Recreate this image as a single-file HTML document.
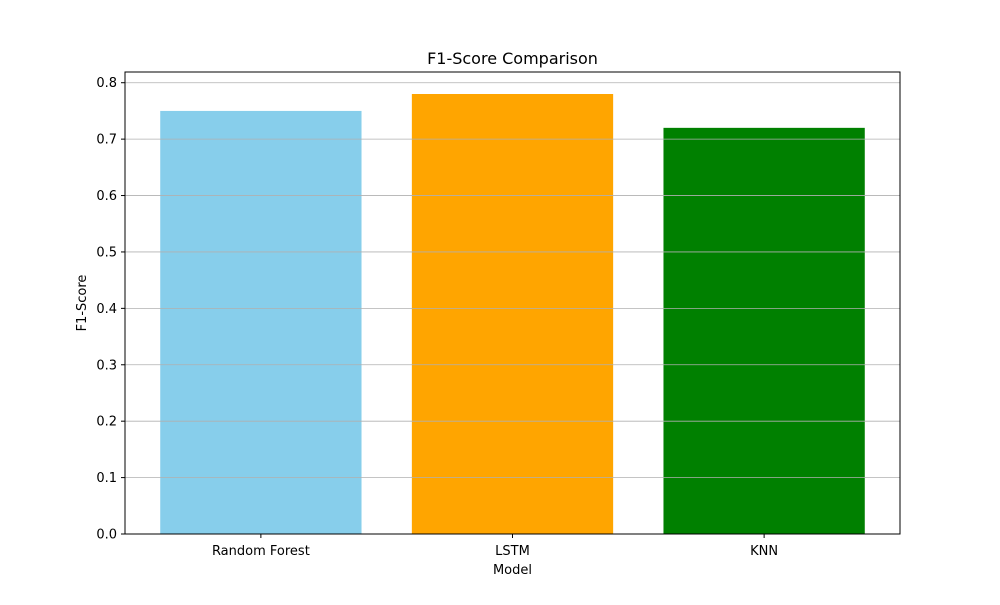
<!DOCTYPE html>
<html><head><meta charset="utf-8"><style>
body{margin:0;background:#fff;}
svg text{font-family:"DejaVu Sans","Liberation Sans",sans-serif;fill:#000;}
</style></head><body>
<svg id="chart" width="1000" height="600" xmlns="http://www.w3.org/2000/svg">
<rect width="1000" height="600" fill="#fff"/>
<g id="bars"></g>
<g id="grid"></g>
<g id="yticks"></g>
<g id="xticks"></g>
<rect x="125" y="72" width="775" height="462" fill="none" stroke="#000" stroke-width="1"/>
<text x="512.5" y="64" font-size="16" text-anchor="middle">F1-Score Comparison</text>
<text x="512.5" y="574" font-size="13" text-anchor="middle">Model</text>
<text x="0" y="0" font-size="13" text-anchor="middle" transform="translate(86,303) rotate(-90)">F1-Score</text>
</svg>
<script>
const categories = ["Random Forest", "LSTM", "KNN"];
const values = [0.75, 0.78, 0.72];
const colors = ["#87ceeb", "#ffa500", "#008000"];
const yTicks = [0, 0.1, 0.2, 0.3, 0.4, 0.5, 0.6, 0.7, 0.8];

const NS = "http://www.w3.org/2000/svg";
const L = 125, R = 900, T = 72, B = 534;
const yMax = Math.max(...values) * 1.05;
const xMin = -0.54, xMax = categories.length - 1 + 0.54;
const y = v => B - v / yMax * (B - T);
const x = i => L + (i - xMin) / (xMax - xMin) * (R - L);
const bw = 0.8 * (R - L) / (xMax - xMin);

function mk(tag, attrs, parent) {
  const e = document.createElementNS(NS, tag);
  for (const k in attrs) e.setAttribute(k, attrs[k]);
  document.getElementById(parent).appendChild(e);
  return e;
}
values.forEach((v, i) => {
  const r = mk("rect", {x: x(i) - bw / 2, y: y(v), width: bw, height: B - y(v), fill: colors[i]}, "bars");
  
  
  const t = mk("line", {x1: x(i), x2: x(i), y1: B, y2: B + 4, stroke: "#000"}, "xticks");
  
  
  const lb = mk("text", {x: x(i), y: B + 21, "font-size": 13, "text-anchor": "middle"}, "xticks");
  lb.textContent = categories[i];
  
  
});
yTicks.forEach(v => {
  const g = mk("line", {x1: L, x2: R, y1: y(v), y2: y(v), stroke: "#b0b0b0", "stroke-width": 0.8}, "grid");
  
  
  const t = mk("line", {x1: L - 4, x2: L, y1: y(v), y2: y(v), stroke: "#000"}, "yticks");
  
  
  const lb = mk("text", {x: L - 8, y: y(v) + 4.5, "font-size": 13, "text-anchor": "end"}, "yticks");
  lb.textContent = v.toFixed(1);
  
  
});
</script>
</body></html>
